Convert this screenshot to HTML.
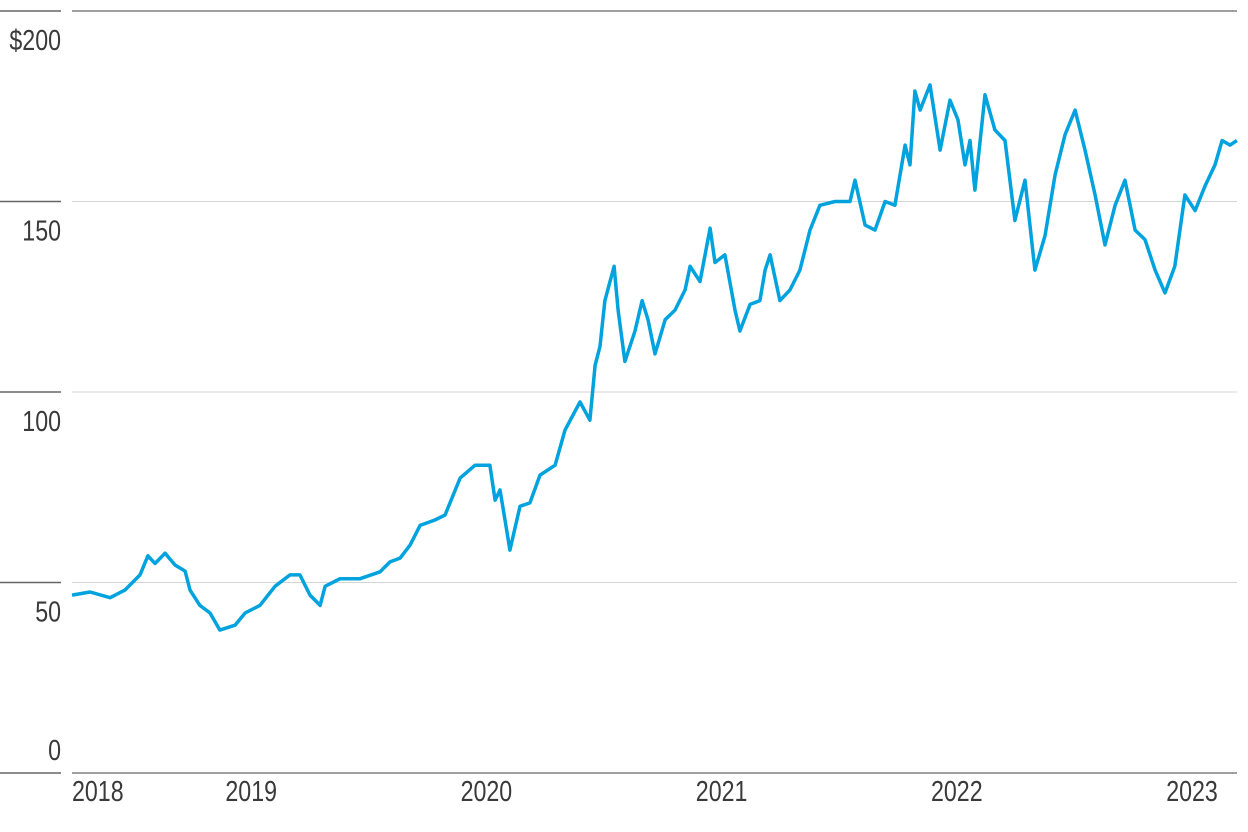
<!DOCTYPE html>
<html><head><meta charset="utf-8"><style>
body{margin:0;background:#fff;}
svg{display:block;}
text{font-family:"Liberation Sans Narrow","Liberation Sans",sans-serif;fill:#3a3a3a;font-size:29px;}
</style></head><body>
<svg id="chart" width="1248" height="832" viewBox="0 0 1248 832" xmlns="http://www.w3.org/2000/svg"></svg>
<script>
const yearOffsets=[0.238,0.315,0.400,0.463,0.527,0.561,0.591,0.634,0.676,0.719,0.740,0.782,0.825,0.867,0.931,0.974,1.037,1.101,1.165,1.207,1.250,1.293,1.314,1.378,1.463,1.548,1.590,1.633,1.675,1.718,1.781,1.824,1.888,1.952,2.015,2.037,2.058,2.079,2.100,2.143,2.185,2.228,2.292,2.334,2.398,2.440,2.462,2.483,2.504,2.543,2.560,2.589,2.632,2.662,2.687,2.717,2.760,2.802,2.845,2.866,2.908,2.951,2.972,3.014,3.057,3.078,3.121,3.163,3.185,3.206,3.248,3.291,3.333,3.376,3.418,3.482,3.546,3.567,3.610,3.652,3.695,3.737,3.780,3.801,3.822,3.844,3.886,3.929,3.971,4.005,4.035,4.056,4.077,4.120,4.162,4.205,4.247,4.290,4.332,4.375,4.418,4.460,4.503,4.545,4.588,4.630,4.673,4.715,4.758,4.800,4.843,4.885,4.927,4.970,5.013,5.055,5.098,5.128,5.162,5.191];
const prices=[46.7,47.5,46,48,52,57,55,57.7,54.6,53,48,44,42,37.5,38.8,42,44,49,52,52,46.7,44,49,51,51,52.8,55.4,56.4,59.8,65,66.4,67.7,77.4,80.8,80.8,71.6,74.3,66.4,58.5,70,70.9,78.2,80.8,90,97.4,92.6,107,112,124,133,121.5,108,116,124,119,110,119,121.5,126.8,133,129,143,134,136,121.5,116,123,124,132,136,124,126.8,132,142.5,149,150,150,155.6,143.8,142.5,150,149,164.8,159.6,179,174,180.6,163.5,176.6,171.4,159.6,166,153,178,168.8,166,145,155.6,132,141,157,167.5,174,163.5,151.7,138.6,149,155.6,142.5,140,132,126,133,151.7,147.6,154,159.6,166,164.8,166];
const yTicks=[0,50,100,150,200];
const yTickLabels=["0","50","100","150","$200"];
const xTicks=[2018,2019,2020,2021,2022,2023];
const xTickLabels=["2018","2019","2020","2021","2022","2023"];

const NS="http://www.w3.org/2000/svg";
const svg=document.getElementById('chart');
const L=72,R=1237;
function xs(t){return 16+(t-2018)*235.2;}
function ys(v){return 773-v*3.81;}
function mk(tag,attrs){const e=document.createElementNS(NS,tag);for(const k in attrs)e.setAttribute(k,attrs[k]);svg.appendChild(e);return e;}
function txt(x,y,anchor,s){const t=mk('text',{x:0,y:0,'text-anchor':anchor,transform:'translate('+x+','+y+') scale(0.8,1)'});t.textContent=s;return t;}

yTicks.forEach((v,i)=>{
  const y=ys(v);
  const g=mk('line',{x1:L,x2:R,y1:y,y2:y,stroke:(v===0||v===200)?'#666':'#d4d4d4','stroke-width':(v===0||v===200)?1.3:1});
  
  
  const tk=mk('line',{x1:0,x2:61,y1:y,y2:y,stroke:'#666','stroke-width':1.5});
  
  
  const t=txt(61,v===0?760:y+39,'end',yTickLabels[i]);
  
  
});
xTicks.forEach((yr,i)=>{
  let x=xs(yr),anchor='middle';
  if(x<L){x=L;anchor='start';}
  const t=txt(x,801,anchor,xTickLabels[i]);
  
  
});
let d='';
yearOffsets.forEach((o,i)=>{d+=(i?'L':'M')+xs(2018+o).toFixed(1)+','+ys(prices[i]).toFixed(1);});
const p=mk('path',{d:d,fill:'none',stroke:'#00a3dd','stroke-width':3.5,'stroke-linejoin':'round'});


</script>
</body></html>
